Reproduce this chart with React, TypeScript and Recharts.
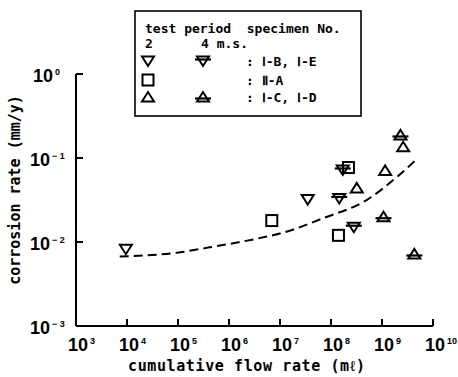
import React from "react";
import { ComposedChart, XAxis, YAxis, Scatter, Line, Legend } from "recharts";

const xTicks = [1e3, 1e4, 1e5, 1e6, 1e7, 1e8, 1e9, 1e10];
const yTicks = [1e-3, 1e-2, 1e-1, 1];

// test period 2 m.s. : Ⅰ-B, Ⅰ-E
const downOpen = [
  { x: 9.5e3, y: 0.0082 },
  { x: 3.5e7, y: 0.032 },
];
// test period 4 m.s. : Ⅰ-B, Ⅰ-E
const downBar = [
  { x: 1.7e8, y: 0.072 },
  { x: 1.45e8, y: 0.033 },
  { x: 2.8e8, y: 0.015 },
];
// Ⅱ-A
const squares = [
  { x: 2.2e8, y: 0.077 },
  { x: 6.9e6, y: 0.018 },
  { x: 1.4e8, y: 0.012 },
];
// 2 m.s. : Ⅰ-C, Ⅰ-D
const upOpen = [
  { x: 2.6e9, y: 0.136 },
  { x: 1.15e9, y: 0.071 },
  { x: 3.2e8, y: 0.044 },
];
// 4 m.s. : Ⅰ-C, Ⅰ-D
const upBar = [
  { x: 2.3e9, y: 0.188 },
  { x: 1.07e9, y: 0.02 },
  { x: 4.3e9, y: 0.0072 },
];
// dashed trend line
const trend = [
  { x: 7.2e3, y: 0.0067 },
  { x: 1.2e5, y: 0.0076 },
  { x: 3.2e5, y: 0.0084 },
  { x: 5.5e6, y: 0.0116 },
  { x: 1e7, y: 0.0126 },
  { x: 7e7, y: 0.0192 },
  { x: 5e8, y: 0.0316 },
  { x: 2e9, y: 0.06 },
  { x: 4.8e9, y: 0.097 },
];

const W = 458;
const H = 377;
const AXIS_X = 76;
const AXIS_Y = 326;
const INK = "#000";
const mono = "'DejaVu Sans Mono', monospace";
const numFont = "'Liberation Sans Narrow', 'Liberation Sans', Arial, sans-serif";

function DownTri({ cx, cy, bar }: any) {
  return (
    <g fill="none" stroke={INK} strokeWidth={2}>
      <path d={`M${cx - 6},${cy - 4.5} L${cx + 6},${cy - 4.5} L${cx},${cy + 5} Z`} />
      {bar && <line x1={cx - 8} x2={cx + 8} y1={cy - 1.5} y2={cy - 1.5} strokeWidth={2.2} />}
    </g>
  );
}

function UpTri({ cx, cy, bar }: any) {
  return (
    <g fill="none" stroke={INK} strokeWidth={2}>
      <path d={`M${cx - 6},${cy + 4.5} L${cx + 6},${cy + 4.5} L${cx},${cy - 5} Z`} />
      {bar && <line x1={cx - 8} x2={cx + 8} y1={cy + 1.5} y2={cy + 1.5} strokeWidth={2.2} />}
    </g>
  );
}

function Square({ cx, cy }: any) {
  return <rect x={cx - 5.5} y={cy - 5.5} width={11} height={11} fill="none" stroke={INK} strokeWidth={2} />;
}

// "10" with a small raised exponent, kept as one text element
function Power({ x, y, exp }: any) {
  return (
    <text x={x} y={y} fontFamily={numFont} fontWeight="bold" fill={INK}>
      <tspan fontSize={18}>10</tspan>
      <tspan fontSize={9} dx={2} dy={-7}>{exp}</tspan>
    </text>
  );
}

function XTick({ x, payload }: any) {
  const exp = Math.round(Math.log10(payload.value));
  return (
    <g>
      <line x1={x} x2={x} y1={AXIS_Y} y2={AXIS_Y - 7} stroke={INK} strokeWidth={2} />
      <Power x={x - 8} y={351} exp={String(exp)} />
    </g>
  );
}

function YTick({ y, payload }: any) {
  const exp = Math.round(Math.log10(payload.value));
  const neg = exp < 0;
  return (
    <g>
      <line x1={AXIS_X} x2={AXIS_X + 7} y1={y} y2={y} stroke={INK} strokeWidth={2} />
      <Power x={neg ? 30 : 33} y={y + 8} exp={neg ? `\u2212 ${-exp}` : String(exp)} />
    </g>
  );
}

function LegendBox() {
  const t = { fontFamily: mono, fontWeight: "bold" as const, fontSize: 13, fill: INK };
  return (
    <svg width={228} height={107} style={{ display: "block" }}>
      <rect x={1} y={1} width={226} height={105} fill="#fff" stroke={INK} strokeWidth={1.6} />
      <text x={11} y={23} {...t} xmlSpace="preserve">test period  specimen No.</text>
      <text x={11} y={38} {...t}>2</text>
      <text x={67} y={38} {...t} xmlSpace="preserve">4 m.s.</text>
      <DownTri cx={14} cy={51} />
      <DownTri cx={69} cy={51} bar />
      <text x={112} y={56} {...t} xmlSpace="preserve">: Ⅰ-B, Ⅰ-E</text>
      <Square cx={14} cy={70} />
      <text x={112} y={75} {...t} xmlSpace="preserve">: Ⅱ-A</text>
      <UpTri cx={14} cy={87} />
      <UpTri cx={69} cy={87} bar />
      <text x={112} y={92} {...t} xmlSpace="preserve">: Ⅰ-C, Ⅰ-D</text>
    </svg>
  );
}

export default function App() {
  return (
    <div style={{ position: "absolute", left: 0, top: 0, width: W, height: H, background: "#fff" }}>
      <ComposedChart width={W} height={H} margin={{ top: 74, right: 25, bottom: 11, left: 16 }}>
        <XAxis
          type="number"
          dataKey="x"
          scale="log"
          domain={[1e3, 1e10]}
          ticks={xTicks}
          interval={0}
          allowDataOverflow
          height={40}
          axisLine={{ stroke: INK, strokeWidth: 2 }}
          tickLine={false}
          tick={<XTick />}
          label={{
            content: () => (
              <text x={128} y={371} fontFamily={mono} fontWeight="bold" fontSize={15} textLength={237} fill={INK}>
                cumulative flow rate (mℓ)
              </text>
            ),
          }}
        />
        <YAxis
          type="number"
          dataKey="y"
          scale="log"
          domain={[1e-3, 1]}
          ticks={yTicks}
          interval={0}
          allowDataOverflow
          width={60}
          axisLine={{ stroke: INK, strokeWidth: 2 }}
          tickLine={false}
          tick={<YTick />}
          label={{
            content: () => (
              <text
                x={20}
                y={190}
                transform="rotate(-90 20 190)"
                textAnchor="middle"
                fontFamily={mono}
                fontWeight="bold"
                fontSize={15}
                fill={INK}
              >
                corrosion rate (mm/y)
              </text>
            ),
          }}
        />
        <Line
          data={trend}
          dataKey="y"
          type="monotone"
          stroke={INK}
          strokeWidth={2}
          strokeDasharray="9 5"
          dot={false}
          isAnimationActive={false}
        />
        <Scatter data={downOpen} shape={(p: any) => <DownTri cx={p.cx} cy={p.cy} />} isAnimationActive={false} />
        <Scatter data={downBar} shape={(p: any) => <DownTri cx={p.cx} cy={p.cy} bar />} isAnimationActive={false} />
        <Scatter data={squares} shape={(p: any) => <Square cx={p.cx} cy={p.cy} />} isAnimationActive={false} />
        <Scatter data={upOpen} shape={(p: any) => <UpTri cx={p.cx} cy={p.cy} />} isAnimationActive={false} />
        <Scatter data={upBar} shape={(p: any) => <UpTri cx={p.cx} cy={p.cy} bar />} isAnimationActive={false} />
        <Legend
          layout="horizontal"
          align="center"
          verticalAlign="middle"
          content={() => <LegendBox />}
          wrapperStyle={{ left: 134, top: 10, width: 228, height: 107 }}
        />
      </ComposedChart>
    </div>
  );
}
